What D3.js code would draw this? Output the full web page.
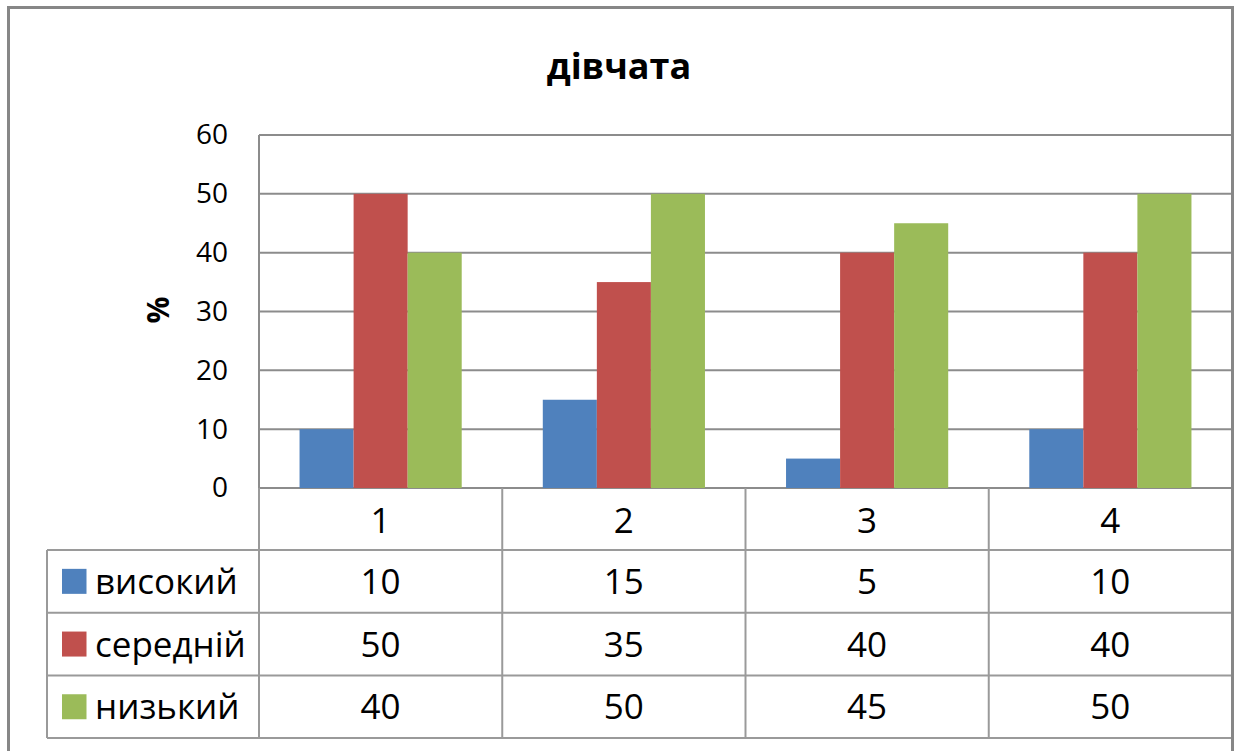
<!DOCTYPE html>
<html><head><meta charset="utf-8">
<script src="https://cdn.jsdelivr.net/npm/d3@7"></script>
<style>html,body{margin:0;padding:0;background:#fff;}svg{display:block;}</style>
</head><body>
<script>
const title = "дівчата";
const yLabel = "%";
const categories = ["1", "2", "3", "4"];
const seriesNames = ["високий", "середній", "низький"];
const vysokyi = [10, 15, 5, 10];
const serednii = [50, 35, 40, 40];
const nyzkyi = [40, 50, 45, 50];
const yTicks = [0, 10, 20, 30, 40, 50, 60];
const colors = ["#4F81BD", "#C0504D", "#9BBB59"];

const seriesValues = [vysokyi, serednii, nyzkyi];
const W = 1237, H = 751;
const font = "'Open Sans', 'Noto Sans', sans-serif";
const tableFont = 35;

const svg = d3.select("body").append("svg").attr("width", W).attr("height", H);
svg.append("rect").attr("width", W).attr("height", H).attr("fill", "#fff");

const plotL = 259, plotR = 1232, plotT = 135, plotB = 488;
const tableL = 47, catRowB = 550, rowH = 62.7;

const x = d3.scaleBand().domain(categories).range([plotL, plotR]).paddingInner(0).paddingOuter(0);
const xs = d3.scaleBand().domain(seriesNames).range([0, x.bandwidth()]).paddingInner(0).paddingOuter(0.75);
const y = d3.scaleLinear().domain([0, 60]).range([plotB, plotT]);

// gridlines
svg.append("g").selectAll("line").data(yTicks).join("line")
  .attr("x1", plotL).attr("x2", plotR)
  .attr("y1", d => y(d)).attr("y2", d => y(d))
  .attr("stroke", "#8c8c8c").attr("stroke-width", 2);

// bars
seriesNames.forEach((s, si) => {
  svg.append("g").selectAll("rect").data(categories).join("rect")
    .attr("x", c => x(c) + xs(s))
    .attr("width", xs.bandwidth())
    .attr("y", (c, i) => y(seriesValues[si][i]))
    .attr("height", (c, i) => y(0) - y(seriesValues[si][i]))
    .attr("fill", colors[si]);
});

// y axis labels
const yAxis = svg.append("g").attr("transform", `translate(${plotL},0)`)
  .call(d3.axisLeft(y).tickValues(yTicks).tickSize(0).tickPadding(31));
yAxis.select(".domain").remove();
yAxis.selectAll("text").attr("font-family", font).attr("font-size", 28).attr("fill", "#000");

// plot left border
svg.append("line").attr("x1", plotL).attr("x2", plotL).attr("y1", plotT).attr("y2", catRowB + 3 * rowH)
  .attr("stroke", "#8c8c8c").attr("stroke-width", 2);

// y label
svg.append("text").attr("transform", `translate(158,310) rotate(-90)`)
  .attr("text-anchor", "middle").attr("dy", "0.36em").attr("font-family", font).attr("font-weight", "bold")
  .attr("font-size", 30).text(yLabel);

// title
svg.append("text").attr("x", 619).attr("y", 79).attr("text-anchor", "middle")
  .attr("font-family", font).attr("font-weight", "bold").attr("font-size", 36).text(title);

// table grid
const tableB = catRowB + 3 * rowH;
const g = svg.append("g").attr("stroke", "#9a9a9a").attr("stroke-width", 2);
const bounds = categories.map(c => x(c)).concat([plotR]);
g.selectAll("line.v").data(bounds).join("line").attr("class", "v")
  .attr("x1", d => d).attr("x2", d => d).attr("y1", plotB).attr("y2", tableB);
g.append("line").attr("x1", tableL).attr("x2", tableL).attr("y1", catRowB).attr("y2", tableB);
const rowLines = d3.range(4).map(i => catRowB + i * rowH);
g.selectAll("line.h").data(rowLines).join("line").attr("class", "h")
  .attr("x1", tableL).attr("x2", plotR).attr("y1", d => d).attr("y2", d => d);

// category labels
svg.append("g").selectAll("text").data(categories).join("text")
  .attr("x", c => x(c) + x.bandwidth() / 2).attr("y", 520).attr("dy", "0.36em")
  .attr("text-anchor", "middle").attr("font-family", font).attr("font-size", tableFont).text(c => c);

// rows
seriesNames.forEach((s, si) => {
  const cy = catRowB + si * rowH + rowH / 2;
  svg.append("rect").attr("x", 62).attr("y", cy - 12.5).attr("width", 24.5).attr("height", 25).attr("fill", colors[si]);
  svg.append("text").attr("x", 95).attr("y", cy).attr("dy", "0.36em").attr("font-family", font).attr("font-size", tableFont)
    .text(s);
  svg.append("g").selectAll("text").data(categories).join("text")
    .attr("x", c => x(c) + x.bandwidth() / 2).attr("y", cy).attr("dy", "0.36em")
    .attr("text-anchor", "middle").attr("font-family", font).attr("font-size", tableFont)
    .text((c, i) => seriesValues[si][i]);
});

// outer frame
svg.append("rect").attr("x", 8.5).attr("y", 7.5).attr("width", 1224).attr("height", 780)
  .attr("fill", "none").attr("stroke", "#878787").attr("stroke-width", 3);
</script>
</body></html>
